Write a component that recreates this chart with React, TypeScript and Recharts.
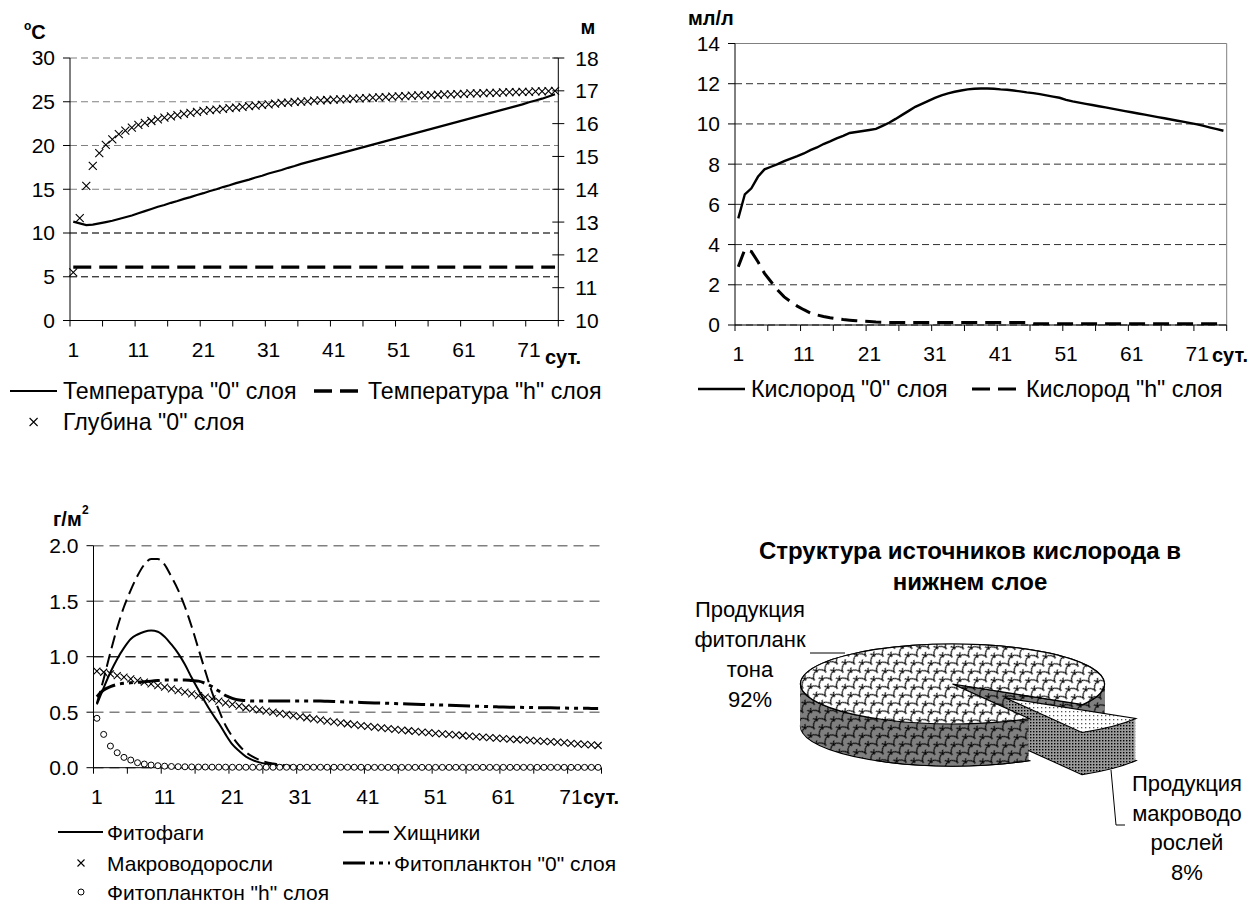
import React from 'react';
import {
  LineChart,
  Line,
  XAxis,
  YAxis,
  CartesianGrid,
  ReferenceLine,
  PieChart,
  Pie,
  Cell,
} from 'recharts';

const FONT = '"Liberation Sans", Arial, Helvetica, sans-serif';
const TICK = { fontSize: 21, fill: '#000', fontFamily: FONT };
const GRID = '#808080';

// сутки моделирования
const days = [
  1, 2, 3, 4, 5, 6, 7, 8, 9, 10,
  11, 12, 13, 14, 15, 16, 17, 18, 19, 20,
  21, 22, 23, 24, 25, 26, 27, 28, 29, 30,
  31, 32, 33, 34, 35, 36, 37, 38, 39, 40,
  41, 42, 43, 44, 45, 46, 47, 48, 49, 50,
  51, 52, 53, 54, 55, 56, 57, 58, 59, 60,
  61, 62, 63, 64, 65, 66, 67, 68, 69, 70,
  71, 72, 73, 74, 75,
];

// --- температура (°C) и глубина (м) ---
const tempSurface = [
  11.3, 11.1, 10.9, 10.95, 11.1, 11.25, 11.4, 11.6, 11.8, 12.0,
  12.25, 12.5, 12.75, 13.0, 13.2, 13.45, 13.65, 13.9, 14.1, 14.35,
  14.55, 14.8, 15.0, 15.25, 15.45, 15.7, 15.9, 16.1, 16.35, 16.55,
  16.8, 17.0, 17.2, 17.45, 17.65, 17.9, 18.1, 18.3, 18.5, 18.7,
  18.9, 19.1, 19.3, 19.5, 19.7, 19.9, 20.1, 20.3, 20.5, 20.7,
  20.9, 21.1, 21.3, 21.5, 21.7, 21.9, 22.1, 22.3, 22.5, 22.7,
  22.9, 23.1, 23.3, 23.5, 23.7, 23.9, 24.1, 24.3, 24.5, 24.7,
  24.95, 25.15, 25.35, 25.6, 25.85,
];
const tempBottom = [
  6.1, 6.1, 6.1, 6.1, 6.1, 6.1, 6.1, 6.1, 6.1, 6.1,
  6.1, 6.1, 6.1, 6.1, 6.1, 6.1, 6.1, 6.1, 6.1, 6.1,
  6.1, 6.1, 6.1, 6.1, 6.1, 6.1, 6.1, 6.1, 6.1, 6.1,
  6.1, 6.1, 6.1, 6.1, 6.1, 6.1, 6.1, 6.1, 6.1, 6.1,
  6.1, 6.1, 6.1, 6.1, 6.1, 6.1, 6.1, 6.1, 6.1, 6.1,
  6.1, 6.1, 6.1, 6.1, 6.1, 6.1, 6.1, 6.1, 6.1, 6.1,
  6.1, 6.1, 6.1, 6.1, 6.1, 6.1, 6.1, 6.1, 6.1, 6.1,
  6.1, 6.1, 6.1, 6.1, 6.1,
];
const depthSurface = [
  11.47, 13.12, 14.1, 14.71, 15.1, 15.35, 15.52, 15.68, 15.79, 15.88,
  15.96, 16.02, 16.08, 16.13, 16.18, 16.22, 16.26, 16.3, 16.33, 16.36,
  16.39, 16.41, 16.43, 16.45, 16.47, 16.49, 16.51, 16.53, 16.55, 16.57,
  16.59, 16.61, 16.63, 16.64, 16.66, 16.67, 16.68, 16.7, 16.71, 16.72,
  16.73, 16.74, 16.75, 16.76, 16.77, 16.78, 16.79, 16.8, 16.81, 16.82,
  16.83, 16.84, 16.85, 16.86, 16.86, 16.87, 16.88, 16.89, 16.89, 16.9,
  16.91, 16.92, 16.92, 16.93, 16.94, 16.94, 16.95, 16.96, 16.96, 16.97,
  16.97, 16.98, 16.98, 16.99, 17.0,
];
const tempTicks = [0, 5, 10, 15, 20, 25, 30];
const depthTicks = [10, 11, 12, 13, 14, 15, 16, 17, 18];
const tempNames = ['Температура "0" слоя', 'Температура "h" слоя', 'Глубина "0" слоя'];

// --- кислород (мл/л) ---
const oxySurface = [
  5.3, 6.5, 6.8, 7.37, 7.74, 7.87, 8.0, 8.15, 8.28, 8.4,
  8.53, 8.7, 8.83, 9.0, 9.13, 9.28, 9.41, 9.55, 9.6, 9.65,
  9.7, 9.75, 9.9, 10.06, 10.25, 10.45, 10.65, 10.85, 11.0, 11.15,
  11.3, 11.42, 11.52, 11.6, 11.66, 11.72, 11.75, 11.76, 11.76, 11.75,
  11.72, 11.7, 11.66, 11.62, 11.57, 11.53, 11.48, 11.42, 11.36, 11.3,
  11.2, 11.12, 11.06, 11.0, 10.94, 10.88, 10.82, 10.76, 10.7, 10.64,
  10.58, 10.52, 10.46, 10.4, 10.34, 10.28, 10.22, 10.16, 10.1, 10.04,
  9.98, 9.9, 9.82, 9.74, 9.66,
];
const oxyBottom = [
  2.9, 3.76, 3.65, 3.15, 2.57, 2.15, 1.74, 1.4, 1.16, 0.94,
  0.76, 0.6, 0.5, 0.42, 0.36, 0.31, 0.27, 0.24, 0.21, 0.19,
  0.17, 0.15, 0.14, 0.13, 0.13, 0.13, 0.13, 0.13, 0.13, 0.13,
  0.13, 0.13, 0.13, 0.13, 0.13, 0.13, 0.13, 0.13, 0.13, 0.13,
  0.13, 0.13, 0.13, 0.13, 0.13, 0.06, 0.06, 0.06, 0.06, 0.06,
  0.06, 0.06, 0.06, 0.06, 0.06, 0.06, 0.06, 0.06, 0.06, 0.06,
  0.06, 0.06, 0.06, 0.06, 0.06, 0.06, 0.06, 0.06, 0.06, 0.06,
  0.06, 0.06, 0.06, 0.06, 0.06,
];
const oxyTicks = [0, 2, 4, 6, 8, 10, 12, 14];
const oxyNames = ['Кислород "0" слоя', 'Кислород "h" слоя'];

// --- биомасса (г/м2) ---
const phytophages = [
  0.57, 0.72, 0.86, 0.98, 1.08, 1.16, 1.2, 1.225, 1.235, 1.225,
  1.18, 1.11, 1.03, 0.93, 0.81, 0.7, 0.59, 0.49, 0.4, 0.3,
  0.21, 0.15, 0.1, 0.068, 0.048, 0.035, 0.026, 0.02, 0.015, 0.011,
  0.008, 0.006, 0.004, 0.003, 0.002, 0.002, 0.001, 0.001, 0.001, 0.001,
  0.001, 0.001, 0.001, 0.001, 0.001, 0.001, 0.001, 0.001, 0.001, 0.001,
  0.001, 0.001, 0.001, 0.001, 0.001, 0.001, 0.001, 0.001, 0.001, 0.001,
  0.001, 0.001, 0.001, 0.001, 0.001, 0.001, 0.001, 0.001, 0.001, 0.001,
  0.001, 0.001, 0.001, 0.001, 0.001,
];
const predators = [
  0.58, 0.8, 1.04, 1.26, 1.45, 1.6, 1.73, 1.83, 1.88, 1.88,
  1.83, 1.72, 1.6, 1.45, 1.27, 1.07, 0.87, 0.68, 0.52, 0.38,
  0.28, 0.2, 0.14, 0.1, 0.07, 0.05, 0.038, 0.028, 0.02, 0.014,
  0.01, 0.007, 0.005, 0.004, 0.003, 0.002, 0.002, 0.002, 0.002, 0.002,
  0.002, 0.002, 0.002, 0.002, 0.002, 0.002, 0.002, 0.002, 0.002, 0.002,
  0.002, 0.002, 0.002, 0.002, 0.002, 0.002, 0.002, 0.002, 0.002, 0.002,
  0.002, 0.002, 0.002, 0.002, 0.002, 0.002, 0.002, 0.002, 0.002, 0.002,
  0.002, 0.002, 0.002, 0.002, 0.002,
];
const macroalgae = [
  0.87, 0.86, 0.845, 0.83, 0.815, 0.8, 0.785, 0.77, 0.755, 0.74,
  0.725, 0.71, 0.695, 0.68, 0.665, 0.65, 0.635, 0.62, 0.6, 0.585,
  0.57, 0.555, 0.54, 0.53, 0.52, 0.51, 0.5, 0.49, 0.48, 0.47,
  0.46, 0.45, 0.44, 0.43, 0.42, 0.412, 0.404, 0.396, 0.388, 0.38,
  0.373, 0.366, 0.359, 0.352, 0.345, 0.339, 0.333, 0.327, 0.321, 0.315,
  0.31, 0.305, 0.3, 0.295, 0.29, 0.285, 0.28, 0.275, 0.27, 0.266,
  0.262, 0.258, 0.254, 0.25, 0.246, 0.242, 0.238, 0.234, 0.23, 0.225,
  0.22, 0.215, 0.21, 0.205, 0.2,
];
const phytoSurface = [
  0.64, 0.7, 0.73, 0.75, 0.76, 0.765, 0.77, 0.775, 0.78, 0.785,
  0.79, 0.79, 0.79, 0.79, 0.785, 0.78, 0.76, 0.73, 0.69, 0.65,
  0.625, 0.61, 0.605, 0.6, 0.6, 0.6, 0.6, 0.6, 0.6, 0.6,
  0.6, 0.6, 0.6, 0.6, 0.598, 0.596, 0.594, 0.592, 0.59, 0.588,
  0.586, 0.584, 0.582, 0.58, 0.578, 0.576, 0.574, 0.572, 0.57, 0.568,
  0.566, 0.564, 0.562, 0.56, 0.558, 0.556, 0.554, 0.552, 0.55, 0.548,
  0.546, 0.545, 0.544, 0.543, 0.542, 0.541, 0.54, 0.539, 0.538, 0.537,
  0.536, 0.535, 0.535, 0.534, 0.534,
];
const phytoBottom = [
  0.445, 0.3, 0.195, 0.135, 0.093, 0.069, 0.045, 0.033, 0.024, 0.018,
  0.014, 0.011, 0.009, 0.008, 0.007, 0.006, 0.006, 0.005, 0.005, 0.005,
  0.004, 0.004, 0.004, 0.004, 0.004, 0.004, 0.004, 0.004, 0.004, 0.004,
  0.004, 0.004, 0.004, 0.004, 0.004, 0.004, 0.004, 0.004, 0.004, 0.004,
  0.003, 0.003, 0.003, 0.003, 0.003, 0.003, 0.003, 0.003, 0.003, 0.003,
  0.003, 0.003, 0.003, 0.003, 0.003, 0.003, 0.003, 0.003, 0.003, 0.003,
  0.003, 0.003, 0.003, 0.003, 0.003, 0.003, 0.003, 0.003, 0.003, 0.003,
  0.003, 0.003, 0.003, 0.003, 0.003,
];
const bioTicks = [0, 0.5, 1, 1.5, 2];
const bioNames = ['Фитофаги', 'Хищники', 'Макроводоросли', 'Фитопланктон "0" слоя', 'Фитопланктон "h" слоя'];

// --- структура источников кислорода ---
const pieNames = ['Продукция макроводорослей', 'Продукция фитопланктона'];
const pieValues = [8, 92];
const pieLabelLines = [
  ['Продукция', 'макроводо', 'рослей'],
  ['Продукция', 'фитопланк', 'тона'],
];
const pieTitle = ['Структура источников кислорода в', 'нижнем слое'];

const tempRows = days.map((day, i) => ({ day, t0: tempSurface[i], th: tempBottom[i], h0: depthSurface[i] }));
const oxyRows = days.map((day, i) => ({ day, o0: oxySurface[i], oh: oxyBottom[i] }));
const bioRows = days.map((day, i) => ({
  day,
  phag: phytophages[i],
  pred: predators[i],
  macro: macroalgae[i],
  ph0: phytoSurface[i],
  phh: phytoBottom[i],
}));
const pieRows = pieNames.map((name, i) => ({ name, value: pieValues[i] }));

// category boundaries: tick marks sit between days, every 5th
const dayBounds = Array.from({ length: 16 }, (_, i) => 0.5 + i * 5);

// label every 10th day, centred in its category slot
function dayTick(dayWidth: number) {
  return function DayTick(props: any) {
    const { x, y, payload } = props;
    const day = payload.value + 0.5;
    if ((day - 1) % 10 !== 0 || day > 75) return <g />;
    return (
      <text x={x + dayWidth / 2} y={y + 30} textAnchor="middle" {...TICK}>
        {day}
      </text>
    );
  };
}

// right axis of the temperature chart: ticks cross the axis line
function depthTick(props: any) {
  const { x, y, payload } = props;
  return (
    <g>
      <line x1={x - 12} x2={x} y1={y} y2={y} stroke="#000" />
      <text x={x + 11} y={y} dy="0.36em" {...TICK}>
        {payload.value}
      </text>
    </g>
  );
}

function crossDot(half: number) {
  return function CrossDot(props: any) {
    const { cx, cy, index } = props;
    if (cx == null || cy == null) return <g key={index} />;
    return (
      <path
        key={index}
        d={`M${cx - half} ${cy - half}L${cx + half} ${cy + half}M${cx - half} ${cy + half}L${cx + half} ${cy - half}`}
        stroke="#000"
        strokeWidth={1.1}
        fill="none"
      />
    );
  };
}

function ringDot(props: any) {
  const { cx, cy, index } = props;
  if (cx == null || cy == null) return <g key={index} />;
  return <circle key={index} cx={cx} cy={cy} r={3} stroke="#000" strokeWidth={1} fill="#fff" />;
}

function TempChart() {
  return (
    <div style={{ position: 'absolute', left: 0, top: 0 }}>
      <LineChart width={640} height={380} data={tempRows} margin={{ top: 58, right: 0, bottom: 0, left: 0 }}>
        <CartesianGrid vertical={false} stroke={GRID} strokeDasharray="7 4" />
        <ReferenceLine y={10} stroke="#222" strokeDasharray="7 4" />
        <ReferenceLine y={5} stroke="#222" strokeDasharray="7 4" />
        <XAxis
          dataKey="day"
          type="number"
          domain={[0.5, 75.5]}
          ticks={dayBounds}
          interval={0}
          height={59.5}
          stroke="#000"
          tickSize={6}
          tickMargin={0}
          tick={dayTick(488.3 / 75)}
        />
        <YAxis
          type="number"
          domain={[0, 30]}
          ticks={tempTicks}
          interval={0}
          width={70}
          stroke="#000"
          tickSize={7}
          tickMargin={8}
          tick={TICK}
        />
        <YAxis
          yAxisId="m"
          orientation="right"
          type="number"
          domain={[10, 18]}
          ticks={depthTicks}
          interval={0}
          width={81.7}
          stroke="#000"
          tickLine={false}
          tickSize={6}
          tickMargin={0}
          tick={depthTick}
        />
        <Line type="linear" dataKey="th" stroke="#000" strokeWidth={3.3} strokeDasharray="18 8" dot={false} isAnimationActive={false} />
        <Line type="linear" dataKey="t0" stroke="#000" strokeWidth={2.2} dot={false} isAnimationActive={false} />
        <Line type="linear" dataKey="h0" yAxisId="m" stroke="none" dot={crossDot(4)} isAnimationActive={false} />
      </LineChart>
    </div>
  );
}

function OxygenChart() {
  return (
    <div style={{ position: 'absolute', left: 640, top: 0 }}>
      <LineChart width={619} height={380} data={oxyRows} margin={{ top: 43.5, right: 32.3, bottom: 0, left: 0 }}>
        <CartesianGrid vertical={false} stroke="#303030" strokeDasharray="7 4" />
        <ReferenceLine y={14} stroke={GRID} />
        <ReferenceLine x={75.5} stroke={GRID} />
        <XAxis
          dataKey="day"
          type="number"
          domain={[0.5, 75.5]}
          ticks={dayBounds}
          interval={0}
          height={55}
          stroke="#000"
          tickSize={6}
          tickMargin={0}
          tick={dayTick(491.7 / 75)}
        />
        <YAxis
          type="number"
          domain={[0, 14]}
          ticks={oxyTicks}
          interval={0}
          width={95}
          stroke="#000"
          tickSize={7}
          tickMargin={8}
          tick={TICK}
        />
        <Line type="linear" dataKey="oh" stroke="#000" strokeWidth={3} strokeDasharray="16 8" dot={false} isAnimationActive={false} />
        <Line type="linear" dataKey="o0" stroke="#000" strokeWidth={2.4} dot={false} isAnimationActive={false} />
      </LineChart>
    </div>
  );
}

function BiomassChart() {
  return (
    <div style={{ position: 'absolute', left: 0, top: 480 }}>
      <LineChart width={640} height={340} data={bioRows} margin={{ top: 65.7, right: 38.5, bottom: 0, left: 0 }}>
        <CartesianGrid vertical={false} stroke={GRID} strokeWidth={1.4} strokeDasharray="10 6" />
        <ReferenceLine y={1} stroke="#222" strokeWidth={1.2} strokeDasharray="10 6" />
        <XAxis
          dataKey="day"
          type="number"
          domain={[0.5, 75.5]}
          ticks={dayBounds}
          interval={0}
          height={52.3}
          stroke="#000"
          tickSize={6}
          tickMargin={0}
          tick={dayTick(508 / 75)}
        />
        <YAxis
          type="number"
          domain={[0, 2]}
          ticks={bioTicks}
          interval={0}
          width={93.5}
          stroke="#000"
          tickSize={7}
          tickMargin={8}
          tick={TICK}
          tickFormatter={(v: number) => v.toFixed(1)}
        />
        <Line type="linear" dataKey="macro" stroke="none" dot={crossDot(3.5)} isAnimationActive={false} />
        <Line type="linear" dataKey="phh" stroke="none" dot={ringDot} isAnimationActive={false} />
        <Line type="monotone" dataKey="ph0" stroke="#000" strokeWidth={3} strokeDasharray="22 5 4 5 4 5" dot={false} isAnimationActive={false} />
        <Line type="monotone" dataKey="pred" stroke="#000" strokeWidth={2} strokeDasharray="13 6" dot={false} isAnimationActive={false} />
        <Line type="monotone" dataKey="phag" stroke="#000" strokeWidth={2} dot={false} isAnimationActive={false} />
      </LineChart>
    </div>
  );
}

// pseudo-3D pie: the disc is squashed vertically by CSS and stacked in layers
const PIE_SQUASH = 0.263;
const PIE_DEPTH = 160;
const PIE_R = 152;
const PIE_CX = 252.5;
const PIE_CY = 94 / PIE_SQUASH;
const PIE_SHIFT = 53;
const PIE_START = -31;
const pieTotal = pieValues.reduce((a, b) => a + b, 0);
const macroEnd = PIE_START - (360 * pieValues[0]) / pieTotal;
const wallOffsets = Array.from({ length: 64 }, (_, i) => PIE_DEPTH - (i * PIE_DEPTH) / 64);

type Row = { name: string; value: number };

function pieLayer(
  key: string,
  rows: Row[],
  start: number,
  end: number,
  cx: number,
  cy: number,
  fills: string[],
  strokes: string[],
) {
  return (
    <Pie
      key={key}
      data={rows}
      dataKey="value"
      cx={cx}
      cy={cy}
      innerRadius={0}
      outerRadius={PIE_R}
      startAngle={start}
      endAngle={end}
      stroke="none"
      isAnimationActive={false}
    >
      {rows.map((row, i) => (
        <Cell key={row.name} fill={fills[i]} stroke={strokes[i]} strokeWidth={1.2} />
      ))}
    </Pie>
  );
}

function OxygenSourcesPie() {
  const s0 = PIE_START;
  const s1 = PIE_START - 360;
  const mainTop = (key: string) =>
    pieLayer(key, pieRows, s0, s1, PIE_CX, PIE_CY, ['none', 'url(#scaleTop)'], ['none', '#000']);
  return (
    <div className="pie3d" style={{ position: 'absolute', left: 700, top: 590 }}>
      <PieChart width={480} height={200} margin={{ top: 0, right: 0, bottom: 0, left: 0 }}>
        {/* phytoplankton slice: side wall, then top */}
        {wallOffsets.map((off, i) =>
          pieLayer(`mw${i}`, pieRows, s0, s1, PIE_CX, PIE_CY + off, ['none', 'url(#scaleWall)'], ['none', i === 0 ? '#000' : 'none']),
        )}
        {mainTop('mt')}
        {/* pulled-out macroalgae slice */}
        {wallOffsets.map((off, i) =>
          pieLayer(
            `pw${i}`,
            pieRows,
            s0,
            s1,
            PIE_CX + PIE_SHIFT,
            PIE_CY + PIE_SHIFT + off,
            ['url(#dotWall)', 'none'],
            [i === 0 ? '#000' : 'none', 'none'],
          ),
        )}
        {pieLayer('pt', pieRows, s0, s1, PIE_CX + PIE_SHIFT, PIE_CY + PIE_SHIFT, ['url(#dotTop)', 'none'], ['#000', 'none'])}
        {/* front wall of the big slice stands in front of the pulled-out piece */}
        {wallOffsets.map((off, i) =>
          pieLayer(`fw${i}`, [pieRows[1]], macroEnd, macroEnd - 60, PIE_CX, PIE_CY + off, ['url(#scaleWall)'], [i === 0 ? '#000' : 'none']),
        )}
        {mainTop('mt2')}
      </PieChart>
    </div>
  );
}

function Patterns() {
  const stretch = `scale(1 ${1 / PIE_SQUASH})`;
  const scales = 'M0 10 A7 7 0 0 1 14 10 M-7 5 A7 7 0 0 1 7 5 M7 5 A7 7 0 0 1 21 5';
  return (
    <svg width={0} height={0} style={{ position: 'absolute' }}>
      <defs>
        <pattern id="scaleTop" patternUnits="userSpaceOnUse" width={14} height={10} patternTransform={`${stretch} rotate(-35)`}>
          <rect width={14} height={10} fill="#fff" />
          <path d={scales} stroke="#000" strokeWidth={1.1} fill="none" />
        </pattern>
        <pattern id="scaleWall" patternUnits="userSpaceOnUse" width={14} height={10} patternTransform={`${stretch} rotate(-35)`}>
          <rect width={14} height={10} fill="#7f7f7f" />
          <path d={scales} stroke="#000" strokeWidth={1.1} fill="none" />
        </pattern>
        <pattern id="dotTop" patternUnits="userSpaceOnUse" width={4} height={4} patternTransform={stretch}>
          <rect width={4} height={4} fill="#fff" />
          <rect x={1} y={1} width={1.3} height={1.3} fill="#555" />
        </pattern>
        <pattern id="dotWall" patternUnits="userSpaceOnUse" width={3} height={3} patternTransform={stretch}>
          <rect width={3} height={3} fill="#9a9a9a" />
          <rect width={1.4} height={1.4} fill="#000" />
        </pattern>
      </defs>
    </svg>
  );
}

function LegendLine({ x1, x2, y, width, dash }: { x1: number; x2: number; y: number; width: number; dash?: string }) {
  return <line x1={x1} x2={x2} y1={y} y2={y} stroke="#000" strokeWidth={width} strokeDasharray={dash} />;
}

function Cross({ x, y, half }: { x: number; y: number; half: number }) {
  return (
    <path
      d={`M${x - half} ${y - half}L${x + half} ${y + half}M${x - half} ${y + half}L${x + half} ${y - half}`}
      stroke="#000"
      strokeWidth={1.1}
    />
  );
}

function Overlay() {
  const txt = { fontFamily: FONT, fill: '#000' };
  const unit = { ...txt, fontSize: 20, fontWeight: 700 };
  const leg1 = { ...txt, fontSize: 23.2 };
  const leg3 = { ...txt, fontSize: 21 };
  const lbl = { ...txt, fontSize: 22, textAnchor: 'middle' as const };
  return (
    <svg width={1259} height={906} style={{ position: 'absolute', left: 0, top: 0, pointerEvents: 'none' }}>
      {/* temperature chart */}
      <text x={24} y={39} {...unit}>
        <tspan fontSize={12} dy={-9}>o</tspan>
        <tspan dy={9}>C</tspan>
      </text>
      <text x={588} y={34} textAnchor="middle" {...unit}>м</text>
      <text x={545} y={364} {...unit}>сут.</text>
      <LegendLine x1={10} x2={57} y={391} width={2.2} />
      <text x={63} y={399} {...leg1}>{tempNames[0]}</text>
      <LegendLine x1={314} x2={358} y={391} width={3.3} dash="18 8" />
      <text x={368} y={399} {...leg1}>{tempNames[1]}</text>
      <Cross x={33.6} y={422} half={4} />
      <text x={63} y={430} {...leg1}>{tempNames[2]}</text>

      {/* oxygen chart */}
      <text x={688} y={25} {...unit}>мл/л</text>
      <text x={1212} y={362} {...unit}>сут.</text>
      <LegendLine x1={698} x2={745} y={389} width={2.4} />
      <text x={751} y={397} {...leg1}>{oxyNames[0]}</text>
      <LegendLine x1={972} x2={1016} y={389} width={3} dash="18 8" />
      <text x={1026} y={397} {...leg1}>{oxyNames[1]}</text>

      {/* biomass chart */}
      <text x={53} y={526} {...unit}>г/м</text>
      <text x={82} y={514} {...unit} fontSize={12}>2</text>
      <text x={583} y={804} {...unit}>сут.</text>
      <LegendLine x1={58} x2={103} y={832} width={2} />
      <text x={107} y={839.5} {...leg3}>{bioNames[0]}</text>
      <LegendLine x1={343} x2={389} y={832} width={2.6} dash="20 6" />
      <text x={393} y={839.5} {...leg3}>{bioNames[1]}</text>
      <Cross x={81} y={863} half={3.5} />
      <text x={107} y={871} {...leg3}>{bioNames[2]}</text>
      <LegendLine x1={343} x2={390} y={863} width={3} dash="22 5 4 5 4 5" />
      <text x={394} y={871} {...leg3}>{bioNames[3]}</text>
      <circle cx={81} cy={892} r={3} stroke="#000" strokeWidth={1} fill="#fff" />
      <text x={107} y={899.5} {...leg3}>{bioNames[4]}</text>

      {/* pie title and labels */}
      <text x={970} y={558.5} {...txt} fontSize={24} fontWeight={700} textAnchor="middle">{pieTitle[0]}</text>
      <text x={970} y={590} {...txt} fontSize={24} fontWeight={700} textAnchor="middle">{pieTitle[1]}</text>
      {[...pieLabelLines[1], `${pieValues[1]}%`].map((s, i) => (
        <text key={`l${i}`} x={750} y={617 + i * 30} {...lbl}>{s}</text>
      ))}
      <polyline points="810,653 845,653" stroke="#000" strokeWidth={1} fill="none" />
      {[...pieLabelLines[0], `${pieValues[0]}%`].map((s, i) => (
        <text key={`r${i}`} x={1187} y={791 + i * 29.5} {...lbl}>{s}</text>
      ))}
      <polyline points="1111,770 1116,825 1125,825" stroke="#000" strokeWidth={1} fill="none" />
    </svg>
  );
}

export default function App() {
  return (
    <div
      style={{
        position: 'absolute',
        left: 0,
        top: 0,
        width: 1259,
        height: 906,
        background: '#fff',
        fontFamily: FONT,
        overflow: 'hidden',
      }}
    >
      <style>{`
        .pie3d path.recharts-sector {
          transform: scale(1, ${PIE_SQUASH});
          transform-origin: 0 0;
          transform-box: view-box;
          vector-effect: non-scaling-stroke;
        }
      `}</style>
      <Patterns />
      <TempChart />
      <OxygenChart />
      <BiomassChart />
      <OxygenSourcesPie />
      <Overlay />
    </div>
  );
}
